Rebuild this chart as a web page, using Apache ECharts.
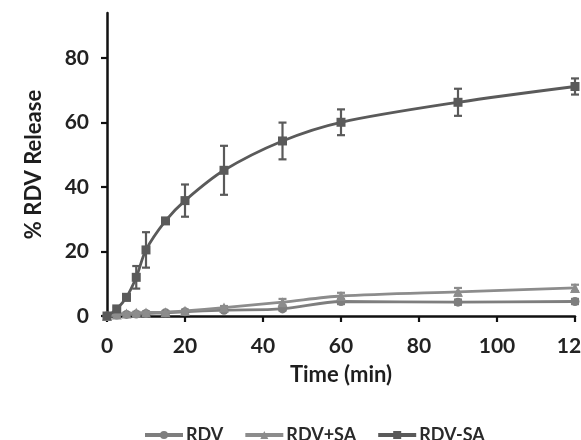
<!DOCTYPE html>
<html>
<head>
<meta charset="utf-8">
<script src="https://cdn.jsdelivr.net/npm/echarts@6/dist/echarts.min.js"></script>
<style>html,body{margin:0;padding:0;background:#fff}#c{width:581px;height:440px}</style>
</head>
<body>
<div id="c"></div>
<script>
var times = [0, 2.5, 5, 7.5, 10, 15, 20, 30, 45, 60, 90, 120];
var rdv = [0, 0.3, 0.5, 0.6, 0.8, 1.0, 1.3, 1.8, 2.2, 4.5, 4.3, 4.5];
var rdvErr = [0, 0.2, 0.2, 0.2, 0.3, 0.3, 0.3, 0.4, 0.5, 0.8, 0.8, 0.8];
var rdvSa = [0, 0.5, 0.8, 1.0, 1.1, 1.2, 1.6, 2.6, 4.3, 6.2, 7.5, 8.7];
var rdvSaErr = [0, 0.2, 0.2, 0.3, 0.3, 0.3, 0.4, 0.5, 1.0, 1.0, 1.2, 1.0];
var rdvMinusSa = [0, 2.2, 5.8, 12.0, 20.5, 29.5, 35.8, 45.2, 54.3, 60.1, 66.3, 71.2];
var rdvMinusSaErr = [0, 0.5, 1.0, 3.5, 5.5, 0.5, 5.0, 7.6, 5.7, 4.0, 4.2, 2.5];
var yTicks = [0, 20, 40, 60, 80];
var xTicks = [0, 20, 40, 60, 80, 100, 120];
var names = ['RDV', 'RDV+SA', 'RDV-SA'];

var colors = ['#7e7e7e', '#8c8c8c', '#5a5a5a'];
var FONT = 'Lato, "Open Sans", sans-serif';

function pairs(vals) { return times.map(function (t, i) { return [t, vals[i]]; }); }
function errData(vals, errs) { return times.map(function (t, i) { return [t, vals[i] - errs[i], vals[i] + errs[i]]; }); }

function errSeries(vals, errs, color, z) {
  return {
    type: 'custom',
    z: z,
    silent: true,
    clip: false,
    data: errData(vals, errs),
    renderItem: function (params, api) {
      var x = api.value(0);
      var lo = api.coord([x, api.value(1)]);
      var hi = api.coord([x, api.value(2)]);
      var w = 4;
      var st = { stroke: color, lineWidth: 2.2 };
      return {
        type: 'group',
        children: [
          { type: 'line', shape: { x1: lo[0], y1: lo[1], x2: hi[0], y2: hi[1] }, style: st },
          { type: 'line', shape: { x1: lo[0] - w, y1: lo[1], x2: lo[0] + w, y2: lo[1] }, style: st },
          { type: 'line', shape: { x1: hi[0] - w, y1: hi[1], x2: hi[0] + w, y2: hi[1] }, style: st }
        ]
      };
    }
  };
}

function lineSeries(name, vals, color, symbol, size, z) {
  return {
    name: name,
    type: 'line',
    data: pairs(vals),
    smooth: 0.3,
    symbol: symbol,
    symbolSize: size,
    z: z,
    clip: false,
    lineStyle: { color: color, width: 2.8 },
    itemStyle: { color: color },
    emphasis: { disabled: true }
  };
}

var chart = echarts.init(document.getElementById('c'), null, { renderer: 'canvas' });
chart.setOption({
  animation: false,
  backgroundColor: '#ffffff',
  grid: { left: 107, right: 6, top: 13, bottom: 124, outerBoundsMode: 'none', containLabel: false },
  legend: {
    top: 421,
    left: 138,
    itemWidth: 38,
    itemHeight: 10,
    itemGap: 20,
    lineStyle: { width: 4 },
    textStyle: { fontFamily: FONT, fontWeight: 'bold', fontSize: 18, color: '#2a2a2a', padding: [0, 0, 0, -2] },
    data: names
  },
  xAxis: {
    type: 'value',
    min: 0, max: 120, interval: 20,
    name: 'Time (min)',
    nameLocation: 'middle',
    nameGap: 48,
    nameTextStyle: { fontFamily: FONT, fontWeight: 'bold', fontSize: 22, color: '#1e1e1e' },
    axisLine: { show: true, onZero: false, lineStyle: { color: '#111', width: 2.5 } },
    axisTick: { show: true, inside: false, length: 6, lineStyle: { color: '#111', width: 2.2 }, customValues: xTicks },
    axisLabel: { margin: 20, fontFamily: FONT, fontWeight: 'bold', fontSize: 21, color: '#222', customValues: xTicks, hideOverlap: false },
    splitLine: { show: false }
  },
  yAxis: {
    type: 'value',
    min: 0, max: 94,
    name: '% RDV Release',
    nameLocation: 'middle',
    nameGap: 62,
    nameTextStyle: { fontFamily: FONT, fontWeight: 'bold', fontSize: 22, color: '#1e1e1e' },
    axisLine: { show: true, lineStyle: { color: '#111', width: 2.5 } },
    axisTick: { show: true, inside: false, length: 6, lineStyle: { color: '#111', width: 2.2 }, customValues: yTicks },
    axisLabel: { margin: 18, fontFamily: FONT, fontWeight: 'bold', fontSize: 21, color: '#222', customValues: yTicks },
    splitLine: { show: false }
  },
  series: [
    lineSeries(names[0], rdv, colors[0], 'circle', 9, 3),
    lineSeries(names[1], rdvSa, colors[1], 'triangle', 10, 4),
    lineSeries(names[2], rdvMinusSa, colors[2], 'rect', 9, 5),
    errSeries(rdv, rdvErr, colors[0], 2),
    errSeries(rdvSa, rdvSaErr, colors[1], 2),
    errSeries(rdvMinusSa, rdvMinusSaErr, colors[2], 2)
  ]
});
</script>
</body>
</html>
